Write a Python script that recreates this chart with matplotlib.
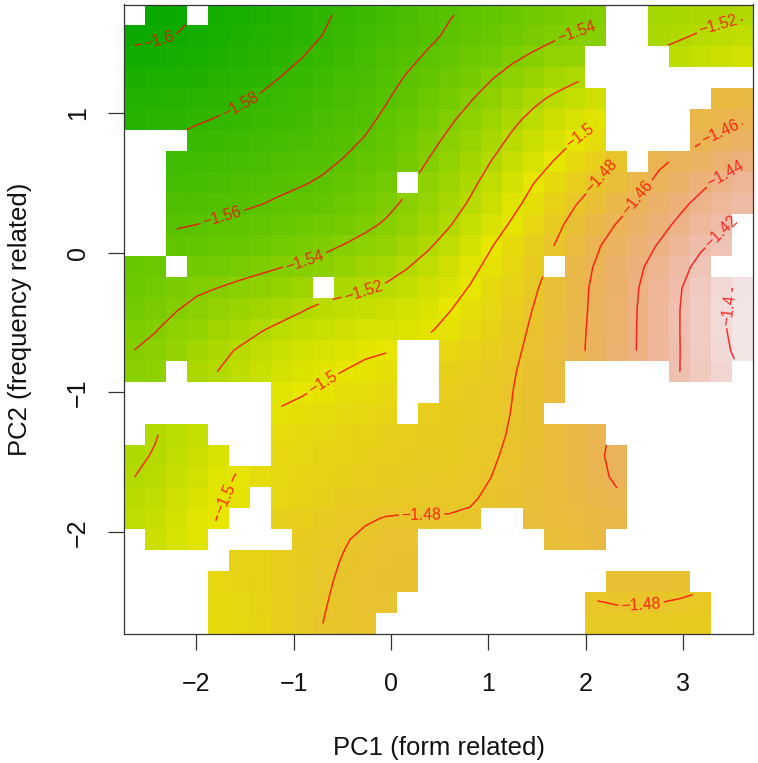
import colorsys
import numpy as np
import matplotlib
matplotlib.use('Agg')
import matplotlib.pyplot as plt
from matplotlib.colors import LinearSegmentedColormap

plt.rcParams['font.family'] = ['Liberation Sans', 'DejaVu Sans']

# cell values, top row first, as -z*1000 (0 = empty cell)
cells = [
    [0, 1605, 1604, 0, 1598, 1596, 1594, 1591, 1587, 1583, 1578, 1575, 1572, 1568, 1565, 1561, 1559, 1556, 1553, 1550, 1548, 1545, 1543, 0, 0, 1528, 1527, 1526, 1525, 1523],
    [1603, 1602, 1600.5, 1597, 1594, 1591, 1588, 1586, 1583, 1579.5, 1576, 1573, 1569, 1566, 1562, 1559, 1556, 1552, 1549, 1546, 1543, 1539, 1537, 0, 0, 1524, 1522, 1519.5, 1518, 1516],
    [1598.5, 1597, 1596, 1594, 1592, 1590, 1587, 1584, 1581, 1577, 1574, 1570, 1566, 1562, 1559, 1555, 1550, 1547, 1542, 1538, 1534, 1530, 0, 0, 0, 0, 1512, 1510, 1507, 1503],
    [1594, 1593, 1592, 1590, 1588, 1585, 1582, 1579.5, 1576, 1573, 1570, 1567, 1563, 1559.5, 1555, 1551, 1546, 1540.5, 1535, 1531, 1527, 1522, 0, 0, 0, 0, 0, 0, 0, 0],
    [1589, 1588, 1587, 1585, 1583, 1581, 1579.5, 1576, 1574, 1571, 1568, 1565, 1561, 1556, 1551, 1547, 1541, 1535, 1530, 1521, 1517, 1513, 1510, 0, 0, 0, 0, 0, 1474, 1472],
    [1585, 1584, 1582, 1581, 1579.5, 1578, 1576, 1574, 1571, 1568, 1565, 1562, 1559, 1553, 1547, 1541, 1536, 1529, 1521, 1516, 1511, 1505, 1498.5, 0, 0, 0, 0, 1469, 1463, 1458],
    [0, 0, 0, 1577, 1575, 1573, 1571, 1569, 1567, 1564, 1562, 1560.5, 1555, 1549, 1543, 1538, 1532, 1525.5, 1518, 1512, 1506, 1500.5, 1494, 0, 0, 0, 0, 1463.5, 1458, 1453],
    [0, 0, 1574, 1572, 1571, 1569, 1567, 1565, 1564, 1562, 1560.5, 1556, 1552, 1546, 1539.5, 1534, 1527, 1519.5, 1512, 1505.5, 1499.5, 1493, 1486, 1479.5, 0, 1467, 1461, 1456, 1447, 1439.5],
    [0, 0, 1571, 1570, 1568, 1566, 1564, 1562, 1561, 1559.5, 1556, 1551, 1546, 0, 1536, 1530, 1523, 1515, 1507, 1499.5, 1493, 1487, 1479.5, 1473, 1462.5, 1459, 1449, 1441.5, 1436, 1428],
    [0, 0, 1567, 1566, 1564, 1563, 1561, 1559.5, 1557, 1555, 1552, 1548, 1544, 1539.5, 1532, 1525.5, 1519, 1512, 1504, 1496.5, 1488, 1479.5, 1474, 1467.5, 1458, 1451, 1444, 1436.5, 1427.5, 1419],
    [0, 0, 1561, 1559, 1558, 1556, 1555, 1553, 1551, 1549, 1546, 1543, 1539.5, 1534, 1529, 1522, 1514, 1506, 1498, 1491, 1484, 1476.5, 1466, 1458.5, 1452, 1445, 1436, 1428.5, 1419, 0],
    [0, 0, 1557, 1555, 1554, 1552, 1551, 1549, 1546, 1543, 1540.5, 1536, 1532, 1527, 1521.5, 1514, 1507, 1499.5, 1493, 1487, 1479.5, 1471, 1459.5, 1453, 1446, 1439.5, 1431, 1420.5, 1410, 0],
    [1553, 1552, 0, 1549, 1547, 1546, 1544, 1540.5, 1538, 1535, 1532, 1529, 1526, 1521, 1515, 1510, 1503, 1497, 1491, 1484, 0, 1466, 1459.5, 1451, 1442, 1434, 1421.5, 1414, 0, 0],
    [1551, 1549, 1544, 1542, 1539.5, 1536, 1533, 1531, 1529, 0, 1524, 1521, 1519.5, 1514, 1509, 1504, 1499.5, 1494, 1488, 1482, 1476, 1464, 1457.5, 1449, 1440.5, 1430, 1420.5, 1411, 1401.5, 1395],
    [1548, 1545, 1540.5, 1537, 1534, 1531, 1528.5, 1526, 1521.5, 1518, 1516, 1513, 1511, 1508, 1504, 1500.5, 1496, 1491, 1485, 1479.5, 1473, 1464.5, 1457, 1449, 1439.5, 1430, 1419.5, 1411, 1400.5, 1395],
    [1545, 1540.5, 1536, 1532, 1528, 1524, 1520.5, 1516, 1513, 1510, 1508, 1506, 1504, 1503, 1501, 1499, 1493, 1489, 1484, 1479.5, 1472, 1464, 1457, 1449, 1439.5, 1430, 1419.5, 1410, 1400.5, 1393],
    [1542, 1536, 1531, 1527, 1522, 1518.5, 1514, 1510, 1508, 1506, 1504, 1502, 1499.5, 0, 0, 1491, 1488, 1485, 1482.5, 1478, 1470, 1462, 1456.5, 1448, 1439.5, 1430, 1421, 1410, 1402, 1392],
    [1538, 1532, 0, 1522, 1518.5, 1515, 1511, 1508, 1505, 1502, 1499.5, 1497, 1495, 0, 0, 1488, 1485, 1483, 1481.5, 1478, 1468, 0, 0, 0, 0, 0, 1422.5, 1414, 1405, 0],
    [0, 0, 0, 0, 0, 0, 0, 1504.5, 1500.5, 1498, 1496, 1494, 1492, 0, 0, 1486, 1484, 1482, 1480.5, 1476, 1470, 0, 0, 0, 0, 0, 0, 0, 0, 0],
    [0, 0, 0, 0, 0, 0, 0, 1498.5, 1496, 1494, 1492, 1491, 1490, 0, 1486, 1485, 1484, 1482, 1481, 1476, 0, 0, 0, 0, 0, 0, 0, 0, 0, 0],
    [0, 1522.5, 1518, 1513, 0, 0, 0, 1495, 1493, 1491, 1490, 1489, 1487, 1486, 1485, 1485, 1484, 1482.5, 1479.5, 1476, 1472, 1468, 1461.5, 0, 0, 0, 0, 0, 0, 0],
    [1522.5, 1520.5, 1515, 1511, 1505, 0, 0, 1491, 1490, 1489, 1488, 1487, 1486, 1485, 1485, 1484, 1483, 1481.5, 1478, 1475, 1472, 1468, 1460, 1455, 0, 0, 0, 0, 0, 0],
    [1521.5, 1518.5, 1512, 1508, 1503, 1498, 1495, 1493, 1491, 1489, 1487, 1486, 1484, 1484, 1483, 1482.5, 1481.5, 1480.5, 1478, 1474, 1471, 1468, 1463, 1455, 0, 0, 0, 0, 0, 0],
    [1518.5, 1515, 1510, 1506, 1499.8, 1497, 0, 1492, 1490, 1488, 1486, 1485, 1484, 1483.5, 1483, 1482, 1481.5, 1479, 1476, 1474, 1472, 1469, 1467, 1459, 0, 0, 0, 0, 0, 0],
    [1516, 1512, 1508, 1500.5, 1498, 0, 0, 1487, 1485, 1484, 1481.5, 1479.5, 1478.5, 1478.5, 1478.5, 1478.5, 1478, 0, 0, 1473, 1472, 1470, 1467, 1463, 0, 0, 0, 0, 0, 0],
    [0, 1512, 1506, 1501, 0, 0, 0, 0, 1485, 1482.5, 1480.5, 1478, 1477, 1476, 0, 0, 0, 0, 0, 0, 1474, 1473, 1471, 0, 0, 0, 0, 0, 0, 0],
    [0, 0, 0, 0, 0, 1490, 1488, 1486, 1484, 1481.5, 1479.5, 1478, 1477, 1476, 0, 0, 0, 0, 0, 0, 0, 0, 0, 0, 0, 0, 0, 0, 0, 0],
    [0, 0, 0, 0, 1492, 1490, 1488, 1486, 1484, 1481.2, 1478, 1477, 1476, 1476, 0, 0, 0, 0, 0, 0, 0, 0, 0, 1472, 1472, 1473, 1473, 0, 0, 0],
    [0, 0, 0, 0, 1493, 1491, 1489, 1487, 1483, 1480, 1478.5, 1477, 1477, 0, 0, 0, 0, 0, 0, 0, 0, 0, 1479.5, 1479.5, 1480.2, 1480.5, 1481, 1482, 0, 0],
    [0, 0, 0, 0, 1495, 1493, 1490, 1488, 1483, 1478.5, 1479, 1478, 0, 0, 0, 0, 0, 0, 0, 0, 0, 0, 1485, 1485, 1485, 1486, 1486, 1487, 0, 0],
]

levels = [-1.6, -1.58, -1.56, -1.54, -1.52, -1.5, -1.48, -1.46, -1.44, -1.42, -1.4]
x_ticks = [-2, -1, 0, 1, 2, 3]
y_ticks = [-2, -1, 0, 1]

# where each contour label sits
label_points = [
    (-2.373, 1.50), (-1.534, 1.044), (-1.739, 0.27), (-0.894, -0.045),
    (-0.268, -0.317), (1.895, 1.593), (3.377, 1.593), (1.97, 0.806),
    (2.167, 0.54), (2.556, 0.377), (3.408, 0.827), (3.428, 0.57),
    (3.459, 0.255), (3.48, -0.41), (-0.713, -0.923), (-1.75, -1.745),
    (0.314, -1.853), (2.563, -2.49),
]


def terrain_colors(n=256):
    # same ramp as R terrain.colors
    k = n // 2
    out = []
    for h, s, v in zip(np.linspace(4 / 12, 2 / 12, k), np.ones(k), np.linspace(0.65, 0.9, k)):
        out.append(colorsys.hsv_to_rgb(h, s, v))
    for h, s, v in zip(np.linspace(2 / 12, 0, n - k), np.linspace(1, 0, n - k), np.linspace(0.9, 0.95, n - k)):
        out.append(colorsys.hsv_to_rgb(h, s, v))
    return LinearSegmentedColormap.from_list('terrain_r', out)


def label_text(v):
    return ('%.2f' % v).rstrip('0').replace('-', '\u2212')


def soften(a):
    # the readings are rough by hand, take the jitter out (1-2-1 over filled cells only)
    k = np.array([1.0, 2.0, 1.0])
    w = np.outer(k, k)
    out = a.copy()
    for i in range(a.shape[0]):
        for j in range(a.shape[1]):
            if np.isnan(a[i, j]):
                continue
            total, weight = 0.0, 0.0
            for di in (-1, 0, 1):
                for dj in (-1, 0, 1):
                    ii, jj = i + di, j + dj
                    if 0 <= ii < a.shape[0] and 0 <= jj < a.shape[1] and not np.isnan(a[ii, jj]):
                        total += w[di + 1, dj + 1] * a[ii, jj]
                        weight += w[di + 1, dj + 1]
            out[i, j] = total / weight
    return out


z = -np.array(cells, dtype=float) / 1000
z[z == 0] = np.nan
z = np.ma.masked_invalid(soften(z))

xlim = (-2.742, 3.719)
ylim = (-2.727, 1.774)
x_edges = np.linspace(xlim[0], xlim[1], 31)
y_edges = np.linspace(ylim[1], ylim[0], 31)
x_mid = (x_edges[:-1] + x_edges[1:]) / 2
y_mid = (y_edges[:-1] + y_edges[1:]) / 2

fig = plt.figure(figsize=(7.58, 7.63), dpi=100)
ax = fig.add_axes([124 / 758, 1 - 634 / 763, 629.3 / 758, 629.5 / 763])

ax.pcolormesh(x_edges, y_edges, z, cmap=terrain_colors(), vmin=-1.61, vmax=-1.39, antialiased=False)
cs = ax.contour(x_mid, y_mid, z, levels=levels, colors='#ff0000', linewidths=1.1, linestyles='solid', alpha=0.8)
labels = ax.clabel(cs, fmt=label_text, manual=label_points, inline=True, inline_spacing=3, fontsize=11.3, colors='#ff0000')
for t in labels:
    t.set_alpha(0.8)

ax.set_xlim(xlim)
ax.set_ylim(ylim)
ax.set_xticks(x_ticks)
ax.set_yticks(y_ticks)
ax.tick_params(length=11.5, width=0.9, color='#333333', labelsize=18, labelcolor='#111111', pad=16)
ax.tick_params(axis='y', labelrotation=90, pad=13)
for t in ax.get_yticklabels():
    t.set_va('center')
for s in ax.spines.values():
    s.set_color('#333333')
    s.set_linewidth(0.9)

ax.set_xlabel('PC1 (form related)', fontsize=18.5, labelpad=28.5, color='#111111')
ax.set_ylabel('PC2 (frequency related)', fontsize=18.5, labelpad=24.5, color='#111111')

fig.savefig('out.png', dpi=100)
